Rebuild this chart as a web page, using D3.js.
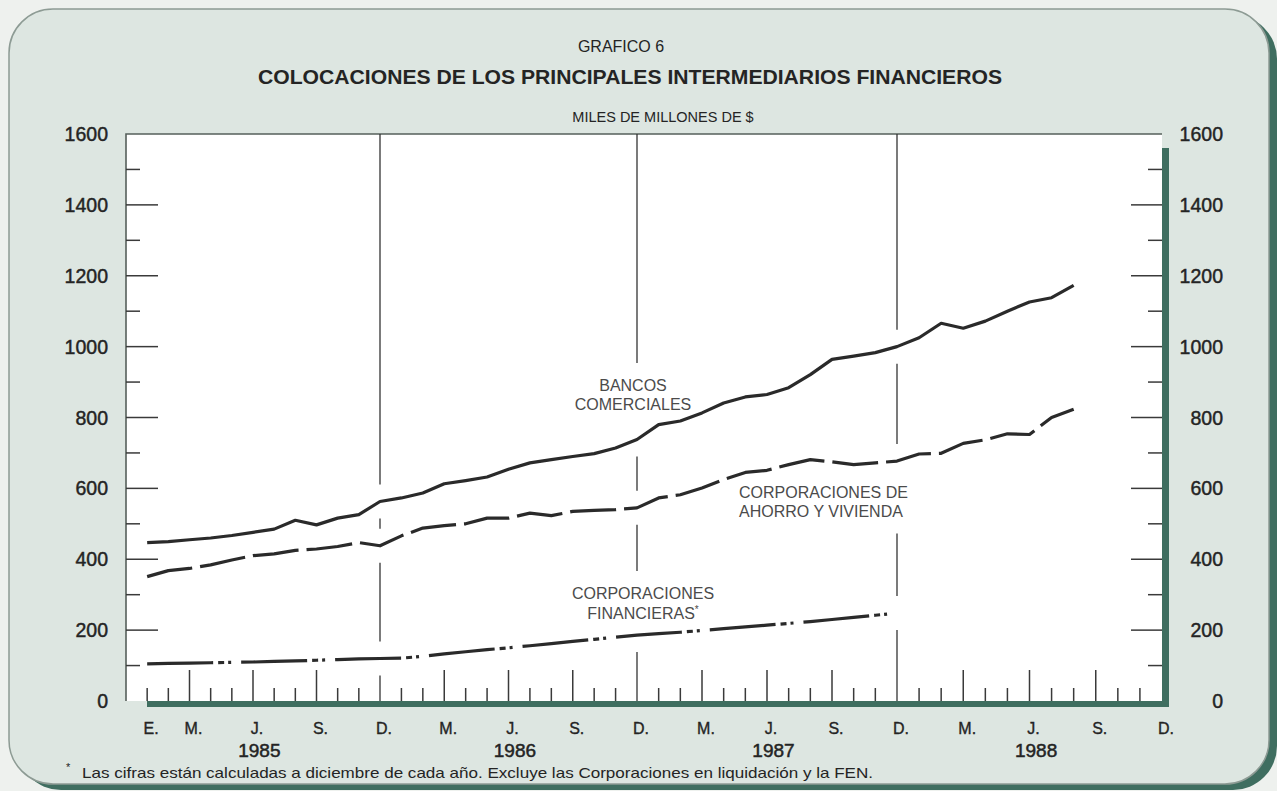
<!DOCTYPE html>
<html>
<head>
<meta charset="utf-8">
<script src="https://cdn.jsdelivr.net/npm/d3@7"></script>
<style>
  body { margin: 0; background: #eef1ee; }
  svg { display: block; font-family: "Liberation Sans", Arial, Helvetica, sans-serif; }
</style>
</head>
<body>
<svg id="chart" width="1277" height="791"></svg>
<script>
// Colocaciones mensuales, miles de millones de $ (mes 1 = enero 1985)
const bancos = [
  447, 450, 455, 460, 467, 476, 485, 510, 497, 516, 526, 563,
  573, 587, 613, 622, 632, 654, 672, 681, 690, 698, 714, 738,
  780, 790, 813, 841, 858, 865, 884, 921, 964, 973, 983, 1000,
  1025, 1066, 1052, 1072, 1100, 1126, 1138, 1173
];
const ahorro = [
  351, 368, 374, 384, 398, 410, 415, 425, 429, 436, 447, 438,
  466, 488, 495, 500, 516, 516, 530, 523, 535, 538, 540, 545,
  573, 582, 601, 625, 645, 651, 667, 681, 675, 667, 672, 677,
  697, 699, 727, 737, 754, 752, 800, 823
];
const financieras = [
  105, 106, 107, 108, 109, 110, 112, 113, 115, 117, 119, 120,
  121, 126, 133, 139, 145, 150, 156, 162, 168, 174, 180, 186,
  190, 194, 199, 204, 209, 214, 219, 224, 230, 236, 242, 248
];

const yTicks = [0, 200, 400, 600, 800, 1000, 1200, 1400, 1600];
const mesesEtiqueta = [1, 3, 6, 9, 12, 15, 18, 21, 24, 27, 30, 33, 36, 39, 42, 45, 48];
const letrasMes = ["E.", "M.", "J.", "S.", "D.", "M.", "J.", "S.", "D.", "M.", "J.", "S.", "D.", "M.", "J.", "S.", "D."];
const anios = ["1985", "1986", "1987", "1988"];
const divisiones = [12, 24, 36];

const svg = d3.select("#chart");
const ink = "#242424";

// tarjeta de fondo con su sombra verde
svg.append("rect").attr("x", 17).attr("y", 15).attr("width", 1260).attr("height", 775)
  .attr("rx", 44).attr("fill", "#3f6e60");
svg.append("rect").attr("x", 9).attr("y", 9).attr("width", 1260).attr("height", 775)
  .attr("rx", 44).attr("fill", "#dde6e1").attr("stroke", "#8d9b94").attr("stroke-width", 1.5);

const x = d3.scaleLinear().domain([0, 12, 24, 36, 48]).range([126, 380, 637, 897, 1162]);
const y = d3.scaleLinear().domain([0, 1600]).range([701, 134]);

// marco del grafico
svg.append("rect")
  .attr("x", x(0) + 21).attr("y", y(1600) + 14)
  .attr("width", x(48) - x(0) - 14).attr("height", y(0) - y(1600) - 8)
  .attr("fill", "#3f6e60");
svg.append("rect")
  .attr("x", x(0)).attr("y", y(1600))
  .attr("width", x(48) - x(0)).attr("height", y(0) - y(1600))
  .attr("fill", "#ffffff");
svg.append("path")
  .attr("d", `M${x(0)},${y(0)}V${y(1600)}H${x(48)}`)
  .attr("fill", "none").attr("stroke", "#56605b").attr("stroke-width", 1.6);

// marcas del eje y, izquierda y derecha
const yMinor = d3.range(100, 1600, 100);
svg.append("g").selectAll("line").data(yMinor).enter().append("line")
  .attr("x1", x(0)).attr("x2", d => x(0) + (d % 200 === 0 ? 32 : 14))
  .attr("y1", d => y(d)).attr("y2", d => y(d))
  .attr("stroke", "#3a3a3a").attr("stroke-width", 1.5);
svg.append("g").selectAll("line").data(yMinor).enter().append("line")
  .attr("x1", x(48)).attr("x2", d => x(48) - (d % 200 === 0 ? 31 : 14))
  .attr("y1", d => y(d)).attr("y2", d => y(d))
  .attr("stroke", "#3a3a3a").attr("stroke-width", 1.5);

const yLabels = svg.append("g").attr("font-size", 19.5).attr("fill", ink)
  .attr("stroke", ink).attr("stroke-width", 0.45);
yLabels.selectAll("text.izq").data(yTicks).enter().append("text")
  .attr("class", "izq").attr("text-anchor", "end")
  .attr("x", 108).attr("y", d => y(d) + 7).text(d => d);
yLabels.selectAll("text.der").data(yTicks).enter().append("text")
  .attr("class", "der").attr("text-anchor", "end")
  .attr("x", 1223).attr("y", d => y(d) + 7).text(d => d);

// marcas mensuales del eje x
const meses = d3.range(1, 48).filter(m => divisiones.indexOf(m) < 0);
svg.append("g").selectAll("line").data(meses).enter().append("line")
  .attr("x1", d => x(d)).attr("x2", d => x(d))
  .attr("y1", y(0)).attr("y2", d => y(0) - (d % 3 === 0 ? 31 : 13))
  .attr("stroke", "#3a3a3a").attr("stroke-width", 1.5);

svg.append("g").attr("font-size", 16).attr("fill", ink)
  .attr("stroke", ink).attr("stroke-width", 0.35)
  .selectAll("text").data(mesesEtiqueta).enter().append("text")
  .attr("text-anchor", "middle")
  .attr("x", d => x(d) + 4).attr("y", 734)
  .text((d, i) => letrasMes[i]);

svg.append("g").attr("font-size", 19).attr("fill", ink)
  .attr("stroke", ink).attr("stroke-width", 0.5)
  .selectAll("text").data(anios).enter().append("text")
  .attr("text-anchor", "middle")
  .attr("x", (d, i) => x(i * 12 + 6.3)).attr("y", 757)
  .text(d => d);

// series
const series = [
  {valores: bancos, dash: null},
  {valores: ahorro, dash: "46,8"},
  {valores: financieras, dash: "66,5,6,4,3,10"}
];
const line = d3.line()
  .x((d, i) => x(i + 1))
  .y(d => y(d));

svg.append("g").selectAll("path").data(series).enter().append("path")
  .attr("d", d => line(d.valores))
  .attr("fill", "none")
  .attr("stroke", "#2a2a2a")
  .attr("stroke-width", 3.2)
  .attr("stroke-linejoin", "round")
  .attr("stroke-dasharray", d => d.dash);

// rotulos de las series
const rotulos = svg.append("g").attr("font-size", 16).attr("fill", "#4b4b4b");
rotulos.append("text").attr("text-anchor", "middle").attr("x", 633).attr("y", 391).text("BANCOS");
rotulos.append("text").attr("text-anchor", "middle").attr("x", 633).attr("y", 410).text("COMERCIALES");
rotulos.append("text").attr("x", 739).attr("y", 497.5).text("CORPORACIONES DE");
rotulos.append("text").attr("x", 739).attr("y", 516.5).text("AHORRO Y VIVIENDA");
rotulos.append("text").attr("text-anchor", "middle").attr("x", 643).attr("y", 599).text("CORPORACIONES");
const fin = rotulos.append("text").attr("text-anchor", "middle").attr("x", 643).attr("y", 618.5);
fin.append("tspan").text("FINANCIERAS");
fin.append("tspan").attr("font-size", 10).attr("dy", -6).text("*");

// lineas de diciembre, cortadas donde pasan series y rotulos
const cajas = [];
rotulos.selectAll("text").each(function() { cajas.push(this.getBBox()); });
divisiones.forEach(m => {
  const xm = x(m);
  const huecos = [];
  series.forEach(s => {
    if (s.valores.length >= m) {
      const yy = y(s.valores[m - 1]);
      huecos.push([yy - 17, yy + 17]);
    }
  });
  cajas.forEach(b => {
    if (b.x - 4 <= xm && b.x + b.width + 4 >= xm) huecos.push([b.y - 14, b.y + b.height + 14]);
  });
  huecos.sort((a, b) => a[0] - b[0]);
  const tramos = [];
  let cur = y(1600);
  huecos.forEach(h => {
    if (h[0] > cur) tramos.push([cur, h[0]]);
    cur = Math.max(cur, h[1]);
  });
  tramos.push([cur, y(0)]);
  svg.append("g").selectAll("line").data(tramos).enter().append("line")
    .attr("x1", xm).attr("x2", xm)
    .attr("y1", d => d[0]).attr("y2", d => d[1])
    .attr("stroke", "#333").attr("stroke-width", 1.3);
});

// titulos
svg.append("text").attr("text-anchor", "middle").attr("x", 621).attr("y", 52)
  .attr("font-size", 16).attr("fill", ink).text("GRAFICO 6");
svg.append("text").attr("text-anchor", "middle").attr("x", 630).attr("y", 84)
  .attr("font-size", 19.5).attr("font-weight", "bold").attr("fill", ink)
  .attr("textLength", 744).attr("lengthAdjust", "spacingAndGlyphs")
  .text("COLOCACIONES DE LOS PRINCIPALES INTERMEDIARIOS FINANCIEROS");
svg.append("text").attr("text-anchor", "middle").attr("x", 663).attr("y", 121.5)
  .attr("font-size", 14.5).attr("fill", ink).text("MILES DE MILLONES DE $");

// nota al pie
svg.append("text").attr("x", 66).attr("y", 771).attr("font-size", 11).attr("fill", ink).text("*");
svg.append("text").attr("x", 82).attr("y", 778).attr("font-size", 14.5).attr("fill", ink)
  .attr("textLength", 791).attr("lengthAdjust", "spacingAndGlyphs")
  .text("Las cifras están calculadas a diciembre de cada año. Excluye las Corporaciones en liquidación y la FEN.");
</script>
</body>
</html>
